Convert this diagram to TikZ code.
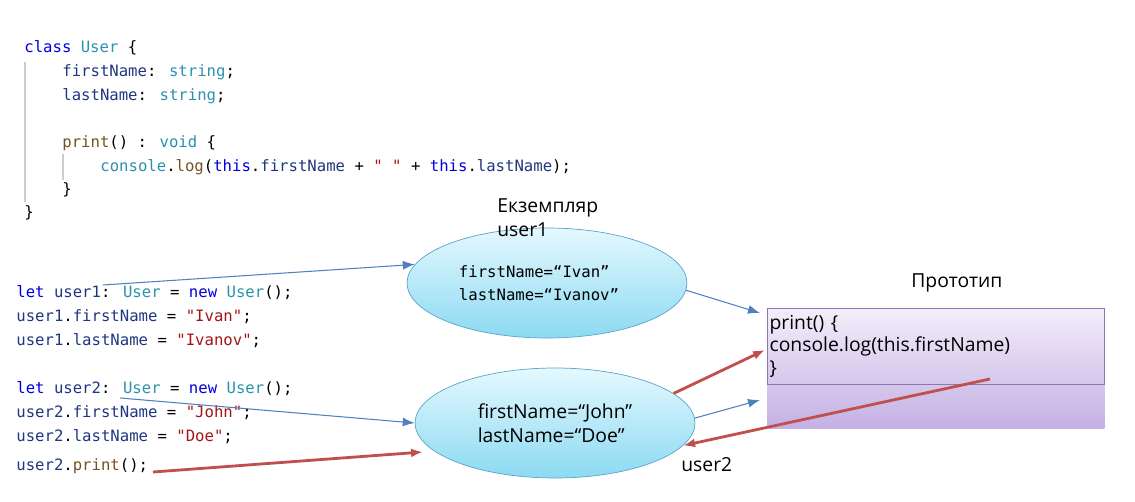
\documentclass[tikz,border=0pt]{standalone}
\usepackage{fontspec}
\setmainfont{Open Sans}
\newfontfamily\codefont{DejaVu Sans Mono}
\usetikzlibrary{shapes.geometric, arrows.meta}

\definecolor{kwblue}{RGB}{0,0,225}
\definecolor{typeteal}{RGB}{43,145,175}
\definecolor{fieldnavy}{RGB}{31,55,127}
\definecolor{strred}{RGB}{163,21,21}
\definecolor{methbrown}{RGB}{116,83,31}
\definecolor{arrblue}{RGB}{79,129,189}
\definecolor{arrred}{RGB}{192,80,77}
\definecolor{guidegray}{RGB}{205,205,205}
\definecolor{ellTop}{RGB}{228,248,254}
\definecolor{ellBot}{RGB}{140,218,242}
\definecolor{ellLine}{RGB}{90,165,200}
\definecolor{protoTop}{RGB}{243,238,250}
\definecolor{protoBot}{RGB}{196,176,228}
\definecolor{protoLine}{RGB}{140,118,182}

\newcommand{\kw}[1]{\textcolor{kwblue}{#1}}
\newcommand{\ty}[1]{\textcolor{typeteal}{#1}}
\newcommand{\fd}[1]{\textcolor{fieldnavy}{#1}}
\newcommand{\st}[1]{\textcolor{strred}{#1}}
\newcommand{\mt}[1]{\textcolor{methbrown}{#1}}

\begin{document}
\begin{tikzpicture}[>={Latex[length=2.4mm,width=1.8mm]}, x=0.02cm, y=-0.02cm,  % 1 unit = 1 pixel
    code/.style={anchor=base west, inner sep=0pt, font={\codefont\fontsize{8.9pt}{13pt}\selectfont}},
    inst/.style={ellipse, draw=ellLine, top color=ellTop, bottom color=ellBot,
                 minimum width=5.6cm, minimum height=2.2cm, inner sep=0pt, align=left},
    lbl/.style={inner sep=0pt, font={\fontsize{11pt}{14pt}\selectfont}},
    bluearr/.style={->, draw=arrblue, line width=0.6pt},
    redarr/.style={->, draw=arrred, line width=1.6pt},
    guide/.style={draw=guidegray, line width=0.6pt}]
    \useasboundingbox (0,0) rectangle (1135,502);

    % class definition
    \draw[guide] (25,62) -- (25,202);
    \draw[guide] (63,154) -- (63,180);
    \node[code] (c1) at (24,53) {\kw{class} \ty{User} \{};
    \node[code] (c2) at (62,77) {\fd{firstName}: \ty{string};};
    \node[code] (c3) at (62,101) {\fd{lastName}: \ty{string};};
    \node[code] (c4) at (62,148) {\mt{print}() : \ty{void} \{};
    \node[code] (c5) at (100,172) {\ty{console}.\mt{log}(\kw{this}.\fd{firstName} + \st{" "} + \kw{this}.\fd{lastName});};
    \node[code] (c6) at (62,195) {\}};
    \node[code] (c7) at (24,218) {\}};

    % usage
    \node[code] (d1) at (16,298) {\kw{let} \fd{user1}: \ty{User} = \kw{new} \ty{User}();};
    \node[code] (d2) at (16,322) {\fd{user1}.\fd{firstName} = \st{"Ivan"};};
    \node[code] (d3) at (16,346) {\fd{user1}.\fd{lastName} = \st{"Ivanov"};};
    \node[code] (d4) at (16,394) {\kw{let} \fd{user2}: \ty{User} = \kw{new} \ty{User}();};
    \node[code] (d5) at (16,418) {\fd{user2}.\fd{firstName} = \st{"John"};};
    \node[code] (d6) at (16,442) {\fd{user2}.\fd{lastName} = \st{"Doe"};};
    \node[code] (d7) at (16,471) {\fd{user2}.\mt{print}();};

    % instances
    \node[inst, font={\codefont\fontsize{8.9pt}{13pt}\selectfont}] (inst1) at (547,283)
        {firstName=“Ivan”\\lastName=“Ivanov”\hspace*{0.32cm}};
    \node[inst, font={\fontsize{11pt}{13.5pt}\selectfont}] (inst2) at (555,423)
        {firstName=“John”\\lastName=“Doe”};
    \node[lbl, anchor=north west, align=left] (lblinst) at (497,198) {Екземпляр\\user1};

    % prototype
    \node[anchor=north west, top color=protoTop, bottom color=protoBot, minimum width=6.74cm,
          minimum height=2.4cm, inner sep=0pt] (protobg) at (767,308) {};
    \node[anchor=north west, draw=protoLine, minimum width=6.74cm, minimum height=1.52cm,
          inner xsep=1.2pt, text width=6.65cm, align=left, font={\fontsize{11pt}{13pt}\selectfont}]
          (proto) at (767,308) {print() \{\\console.log(this.firstName)\\\}};
    \node[lbl, anchor=base west] (lblproto) at (911,288) {Прототип};
    \node[lbl, anchor=base west] (lbluser2) at (681,472) {user2};

    % connectors
    \coordinate (s1) at (103,285);
    \coordinate (s2) at (120,398);
    \coordinate (s3) at (153,472);
    \coordinate (e3) at (423,452);
    \coordinate (p1) at (760,313);
    \coordinate (p2) at (765,350);
    \coordinate (p3) at (760,400);
    \coordinate (s5) at (990,379);
    \draw[bluearr] (s1) -- (inst1.172);
    \draw[bluearr] (inst1.-3) -- (p1);
    \draw[bluearr] (s2) -- (inst2.west);
    \draw[bluearr] (inst2.2) -- (p3);
    \draw[redarr] (s3) -- (e3);
    \draw[redarr] (inst2.14) -- (p2);
    \draw[redarr] (s5) -- (inst2.-10);
\end{tikzpicture}
\end{document}
